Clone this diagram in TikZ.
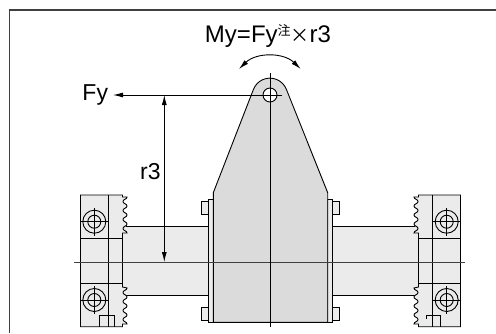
\documentclass[tikz,border=0pt]{standalone}
\usepackage{fontspec}
\setmainfont{Liberation Sans}
\newfontfamily\cjk{Noto Sans CJK JP}
\usetikzlibrary{arrows.meta}
\def\tooth#1{.. controls +(0,2.2) and +(0,-2.2) .. ++(#1*-4,4.5) .. controls +(0,2.2) and +(0,-2.2) .. ++(#1*4,4.5)}
\def\teeth#1{\tooth{#1} \tooth{#1} \tooth{#1} \tooth{#1}}
\begin{document}
\begin{tikzpicture}[x=1pt,y=-1pt,line width=.9pt,>={Latex[length=10pt,width=5pt]}]
\tikzstyle{every node}=[inner sep=0pt]
\tikzstyle{label}=[font=\fontsize{23}{23}\selectfont]
\tikzstyle{block}=[draw,fill=black!8,line join=miter]
\tikzstyle{plate}=[draw,fill=black!14]
\tikzstyle{axis}=[draw=black!75]
\tikzstyle{ring}=[circle,draw]
\useasboundingbox (0,0) rectangle (496,333);
% frame
\draw[black!75,line width=1.4pt] (9.5,333) -- (9.5,10) -- (496,10);
% bars
\fill[black!8] (120,226.3) rectangle (209,295.3);
\fill[black!8] (332,226.3) rectangle (421,295.3);
\draw (126,226.3) -- (209,226.3);
\draw (126,295.3) -- (209,295.3);
\draw (332,226.3) -- (415,226.3);
\draw (332,295.3) -- (415,295.3);
% left block
\draw[block] (80.5,195) -- (122.5,195) -- (122.5,197) -- (127,197) \teeth{1} -- (122.5,233) -- (122.5,287) -- (127,288) \teeth{1} -- (122.5,324) -- (122.5,326.7) -- (80.5,326.7) -- cycle;
\draw (80.5,238.3) -- (122.5,238.3);
\draw (80.5,283) -- (122.5,283);
\draw (108.3,195) -- (108.3,326.7);
\draw (99.3,326.7) -- (99.3,315.7) -- (114.3,315.7) -- (114.3,326.7);
% right block
\draw[block] (460.5,195) -- (418.5,195) -- (418.5,197) -- (414,197) \teeth{-1} -- (418.5,233) -- (418.5,287) -- (414,288) \teeth{-1} -- (418.5,324) -- (418.5,326.7) -- (460.5,326.7) -- cycle;
\draw (418.5,238.3) -- (460.5,238.3);
\draw (418.5,283) -- (460.5,283);
\draw (432.7,195) -- (432.7,326.7);
\draw (426.7,319) -- (426.7,315.7) -- (440.7,315.7) -- (440.7,326.7);
% bolts
\draw (94.3,221.7) node (b1) [ring,minimum size=23pt] {};
\draw (b1) node (b1i) [ring,minimum size=13pt] {};
\draw (94.3,300) node (b2) [ring,minimum size=23pt] {};
\draw (b2) node (b2i) [ring,minimum size=13pt] {};
\draw (446.7,221.7) node (b3) [ring,minimum size=23pt] {};
\draw (b3) node (b3i) [ring,minimum size=13pt] {};
\draw (446.7,300) node (b4) [ring,minimum size=23pt] {};
\draw (b4) node (b4i) [ring,minimum size=13pt] {};
\draw (80.5,221.7) -- (108.3,221.7) (94.3,208) -- (94.3,235.5);
\draw (80.5,300) -- (108.3,300) (94.3,286) -- (94.3,314);
\draw (432.7,221.7) -- (460.5,221.7) (446.7,208) -- (446.7,235.5);
\draw (432.7,300) -- (460.5,300) (446.7,286) -- (446.7,314);
% studs and flanges
\draw[block] (201.7,201) rectangle (208.7,214.3);
\draw[block] (201.7,307.3) rectangle (208.7,320.3);
\draw[block] (332.3,201) rectangle (339.3,214.3);
\draw[block] (332.3,307.3) rectangle (339.3,320.3);
\draw[block] (208.7,199.3) rectangle (213.3,322.3);
\draw[block] (327.7,199.3) rectangle (332.3,322.3);
% plate
\draw[plate] (213.3,322.3) -- (213.3,192.7) -- (253.4,89.5) arc (201:339:17.7) -- (327.7,192.7) -- (327.7,322.3) -- cycle;
\draw (270,95) node (pin) [ring,fill=white,minimum size=14pt] {};
% axes
\draw[axis] (74,262) -- (465,262);
\draw (270,73) -- (270,327);
% loads
\draw (82,95) node (fy) [label,anchor=west] {Fy};
\coordinate (fytip) at (113,95);
\coordinate (pinend) at (281.7,95);
\draw[->] (pinend) -- (fytip);
\coordinate (dimtop) at (164.3,95);
\coordinate (dimbot) at (164.3,262);
\draw[<->] (dimtop) -- (dimbot);
\draw (161,172) node (r3) [label,anchor=east] {r3};
\coordinate (turnl) at (239,69);
\coordinate (turnr) at (300.7,69);
\draw[<->] (turnl) to[bend left=44] (turnr);
\draw (268,36) node (my) [label] {\fontsize{24}{24}\selectfont My=Fy{\cjk\fontsize{13}{13}\selectfont\raisebox{7pt}{注}}{\cjk\fontsize{19}{19}\selectfont ×}r3};
\end{tikzpicture}
\end{document}
